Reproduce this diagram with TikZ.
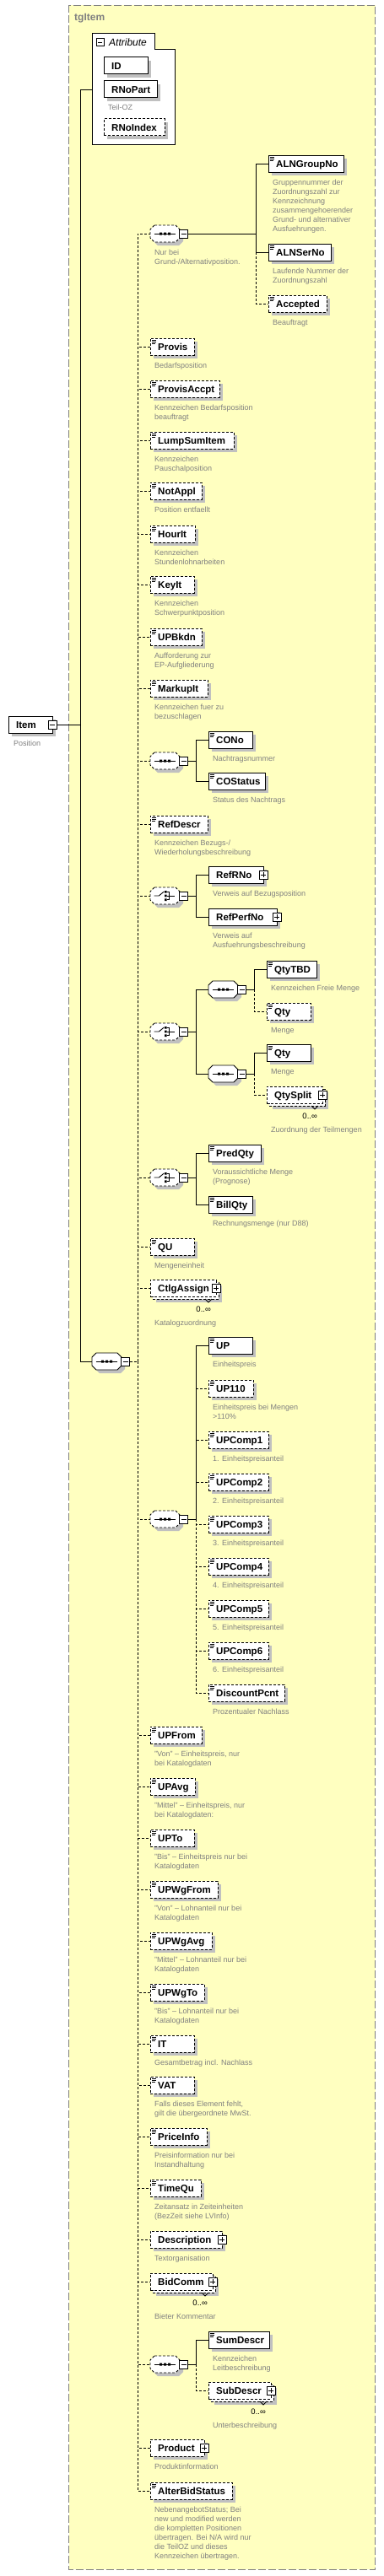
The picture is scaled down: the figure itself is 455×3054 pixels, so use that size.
\documentclass[tikz,border=0pt]{standalone}
\usepackage{fontspec}
\setmainfont{Liberation Sans}
\usetikzlibrary{calc}
\definecolor{ybg}{RGB}{255,255,192}
\definecolor{ybd}{RGB}{128,128,128}
\definecolor{shd}{RGB}{192,192,192}
\definecolor{dtxt}{RGB}{128,128,128}
\tikzset{
 conn/.style={line width=0.9pt, draw=black},
 opt/.style={dash pattern=on 3pt off 2pt},
 ebox/.style={draw=black, fill=white, line width=0.9pt, minimum height=20pt, inner sep=0pt, outer sep=0pt, rectangle},
 ename/.style={font=\fontsize{11.5}{13}\selectfont\bfseries, inner sep=0pt, text=black},
 desc/.style={font=\fontsize{9}{11}\selectfont, text=dtxt, align=left, inner sep=0pt},
 occ/.style={font=\fontsize{9.5}{11}\selectfont, inner sep=0pt, text=black},
 pmbox/.style={draw=black, fill=white, line width=0.8pt, minimum size=10pt, inner sep=0pt, outer sep=0pt, rectangle},
 anch/.style={inner sep=0pt, outer sep=0pt, minimum width=35pt, minimum height=20pt},
}
\newcommand\xEl[6]{%
  \fill[shd] (#3+4,#4-6) rectangle (#3+#5+4,#4+14);
  \node[ebox,#2,minimum width=#5pt,anchor=west] (#1) at (#3,#4) {};
  \node[ename,anchor=base west] (#1-t) at (#3+9,#4+4.5) {#6};
}
\newcommand\xIcon[2]{%
  \draw[line width=0.6pt] (#1+2,#2-7.7) -- (#1+7,#2-7.7) (#1+2,#2-5.7) -- (#1+7,#2-5.7) (#1+2,#2-3.7) -- (#1+5.5,#2-3.7);
}
\newcommand\xElI[6]{\xEl{#1}{#2}{#3}{#4}{#5}{#6}\xIcon{#3}{#4}}
\newcommand\xMul[6]{%
  \fill[shd] (#3+7,#4-3) rectangle (#3+#5+7,#4+17);
  \path[draw=black, fill=white, line width=0.9pt, #2] (#3+3,#4-7) rectangle (#3+#5+3,#4+13);
  \node[ebox,#2,minimum width=#5pt,anchor=west] (#1) at (#3,#4) {};
  \node[ename,anchor=base west] (#1-t) at (#3+9,#4+4.5) {#6};
  \draw[line width=0.8pt] (#3+#5-13,#4+13) -- (#3+#5-9,#4+17) -- (#3+#5-5,#4+13);
  \node[occ,anchor=base east] (#1-o) at (#3+#5-6,#4+28) {0..∞};
}
\newcommand\xDesc[4]{\node[desc,anchor=north west] (#1) at (#2,#3-7.7) {\strut #4};}
\newcommand\xMinus[3]{\node[pmbox] (#1) at (#2,#3) {};
  \draw[line width=0.7pt] ([xshift=2pt]#1.west) -- ([xshift=-2pt]#1.east);}
\newcommand\xPlus[3]{\node[pmbox] (#1) at (#2,#3) {};
  \draw[line width=0.7pt] ([xshift=2pt]#1.west) -- ([xshift=-2pt]#1.east) ([yshift=2pt]#1.south) -- ([yshift=-2pt]#1.north);}
\newcommand\xOct[3]{%
  \path[#1] (#2+5,#3-10) -- (#2+30,#3-10) -- (#2+35,#3-5) -- (#2+35,#3+5) -- (#2+30,#3+10) -- (#2+5,#3+10) -- (#2,#3+5) -- (#2,#3-5) -- cycle;}
\newcommand\xComp[4]{%
  \xOct{fill=shd}{#3+4}{#4+4}
  \xOct{draw=black,fill=white,line width=0.9pt,#2}{#3}{#4}
  \node[anch] (#1) at (#3+17.5,#4) {};
  \xMinus{#1-pm}{#3+39.5}{#4}
}
\newcommand\xSeq[2]{%
  \draw[line width=0.9pt] (#1+4.5,#2) -- (#1+30,#2);
  \fill (#1+11,#2-1.5) rectangle ++(3,3) (#1+16,#2-1.5) rectangle ++(3,3) (#1+21,#2-1.5) rectangle ++(3,3);
}
\newcommand\xCho[2]{%
  \draw[line width=0.9pt] (#1+4.5,#2) -- (#1+10.3,#2) -- (#1+16.3,#2-5);
  \fill (#1+17,#2-6) rectangle ++(2.6,2.6) (#1+17,#2-1.3) rectangle ++(2.6,2.6) (#1+17,#2+3.4) rectangle ++(2.6,2.6);
  \draw[line width=0.7pt] (#1+19.6,#2-4.7) -- (#1+22,#2-4.7) -- (#1+22,#2+4.7) -- (#1+19.6,#2+4.7) (#1+19.6,#2) -- (#1+28.7,#2);
}
\begin{document}
\begin{tikzpicture}[x=1pt,y=-1pt]
\useasboundingbox (0,0) rectangle (455,3054);
\fill[white] (0,0) rectangle (455,3054);
\draw[fill=ybg, draw=ybd, line width=1pt, dash pattern=on 9pt off 3pt] (81.5,6) rectangle (444.5,3046);
\node[font=\fontsize{12}{14}\selectfont\bfseries, text=ybd, anchor=base west, inner sep=0pt] (tg) at (88,24) {tgItem};

% Attributes
\path[draw=black, fill=white, line width=0.9pt] (109,171) -- (109,39) -- (183,39) -- (183,58) -- (207,58) -- (207,171) -- cycle;
\node[anch, minimum width=98pt, minimum height=130pt] (attr) at (158,106) {};
\node[pmbox, minimum size=9pt] (attr-pm) at (118.5,50) {};
\draw[line width=0.7pt] ([xshift=2pt]attr-pm.west) -- ([xshift=-2pt]attr-pm.east);
\node[font=\fontsize{12}{14}\selectfont\itshape, anchor=base west, inner sep=0pt] (attr-t) at (129,54) {Attribute};
\xEl{ID}{}{123}{77.5}{52}{ID}
\xEl{RNoPart}{}{123}{105.5}{63}{RNoPart}
\xDesc{RNoPart-d}{128}{130}{Teil-OZ}
\xEl{RNoIndex}{opt}{123}{150.5}{72}{RNoIndex}

% Item
\xEl{Item}{}{10}{859}{52}{Item}
\xMinus{Item-pm}{62}{859}
\xDesc{Item-d}{16}{884}{Position}

% main sequence
\xComp{mseq}{}{109}{1614}
\xSeq{109}{1614}

% seq1
\xComp{seq1}{opt}{178}{277}
\xSeq{178}{277}
\xDesc{seq1-d}{183}{302}{Nur bei\\Grund-/Alternativposition.}
\xElI{ALNGroupNo}{}{318}{194}{89}{ALNGroupNo}
\xDesc{ALNGroupNo-d}{323}{219}{Gruppennummer der\\Zuordnungszahl zur\\Kennzeichnung\\zusammengehoerender\\Grund- und alternativer\\Ausfuehrungen.}
\xElI{ALNSerNo}{}{318}{299}{74}{ALNSerNo}
\xDesc{ALNSerNo-d}{323}{324}{Laufende Nummer der\\Zuordnungszahl}
\xElI{Accepted}{opt}{318}{360}{69}{Accepted}
\xDesc{Accepted-d}{323}{385}{Beauftragt}

\xElI{Provis}{opt}{178}{411}{52}{Provis}
\xDesc{Provis-d}{183}{436}{Bedarfsposition}
\xElI{ProvisAccpt}{opt}{178}{461}{82}{ProvisAccpt}
\xDesc{ProvisAccpt-d}{183}{486}{Kennzeichen Bedarfsposition\\beauftragt}
\xElI{LumpSumItem}{opt}{178}{522}{99}{LumpSumItem}
\xDesc{LumpSumItem-d}{183}{547}{Kennzeichen\\Pauschalposition}
\xElI{NotAppl}{opt}{178}{582}{61}{NotAppl}
\xDesc{NotAppl-d}{183}{607}{Position entfaellt}
\xElI{HourIt}{opt}{178}{633}{53}{HourIt}
\xDesc{HourIt-d}{183}{658}{Kennzeichen\\Stundenlohnarbeiten}
\xElI{KeyIt}{opt}{178}{693}{52}{KeyIt}
\xDesc{KeyIt-d}{183}{718}{Kennzeichen\\Schwerpunktposition}
\xElI{UPBkdn}{opt}{178}{755}{61}{UPBkdn}
\xDesc{UPBkdn-d}{183}{780}{Aufforderung zur\\EP-Aufgliederung}
\xElI{MarkupIt}{opt}{178}{816}{68}{MarkupIt}
\xDesc{MarkupIt-d}{183}{841}{Kennzeichen fuer zu\\bezuschlagen}

% CO
\xComp{seqCO}{opt}{178}{902}
\xSeq{178}{902}
\xElI{CONo}{}{247}{877}{52}{CONo}
\xDesc{CONo-d}{252}{902}{Nachtragsnummer}
\xElI{COStatus}{}{247}{926}{67}{COStatus}
\xDesc{COStatus-d}{252}{951}{Status des Nachtrags}

\xElI{RefDescr}{opt}{178}{977}{68}{RefDescr}
\xDesc{RefDescr-d}{183}{1002}{Kennzeichen Bezugs-/\\Wiederholungsbeschreibung}

% choice 1
\xComp{cho1}{opt}{178}{1062}
\xCho{178}{1062}
\xEl{RefRNo}{}{247}{1037}{65}{RefRNo}
\xPlus{RefRNo-pm}{312}{1037}
\xDesc{RefRNo-d}{252}{1062}{Verweis auf Bezugsposition}
\xEl{RefPerfNo}{}{247}{1087}{81}{RefPerfNo}
\xPlus{RefPerfNo-pm}{328}{1087}
\xDesc{RefPerfNo-d}{252}{1112}{Verweis auf\\Ausfuehrungsbeschreibung}

% choice 2
\xComp{cho2}{opt}{178}{1223}
\xCho{178}{1223}
\xComp{seqA}{}{247}{1173}
\xSeq{247}{1173}
\xElI{QtyTBD}{}{316}{1149}{59}{QtyTBD}
\xDesc{QtyTBD-d}{321}{1174}{Kennzeichen Freie Menge}
\xElI{Qty}{opt}{316}{1199}{52}{Qty}
\xDesc{Qty-d}{321}{1224}{Menge}
\xComp{seqB}{}{247}{1273}
\xSeq{247}{1273}
\xElI{Qty2}{}{316}{1248}{52}{Qty}
\xDesc{Qty2-d}{321}{1273}{Menge}
\xMul{QtySplit}{opt}{316}{1298}{66}{QtySplit}
\xPlus{QtySplit-pm}{382}{1298}
\xDesc{QtySplit-d}{321}{1342}{Zuordnung der Teilmengen}

% choice 3
\xComp{cho3}{opt}{178}{1396}
\xCho{178}{1396}
\xElI{PredQty}{}{247}{1367}{62}{PredQty}
\xDesc{PredQty-d}{252}{1392}{Voraussichtliche Menge\\(Prognose)}
\xElI{BillQty}{}{247}{1428}{52}{BillQty}
\xDesc{BillQty-d}{252}{1453}{Rechnungsmenge (nur D88)}

\xElI{QU}{opt}{178}{1478}{52}{QU}
\xDesc{QU-d}{183}{1503}{Mengeneinheit}
\xMul{CtlgAssign}{opt}{178}{1527}{78}{CtlgAssign}
\xPlus{CtlgAssign-pm}{256}{1527}
\xDesc{CtlgAssign-d}{183}{1571}{Katalogzuordnung}

% UP sequence
\xComp{seqUP}{opt}{178}{1801}
\xSeq{178}{1801}
\xElI{UP}{}{247}{1595}{52}{UP}
\xDesc{UP-d}{252}{1620}{Einheitspreis}
\xElI{UP110}{opt}{247}{1646}{53}{UP110}
\xDesc{UP110-d}{252}{1671}{Einheitspreis bei Mengen\\>110\%}
\xElI{UPComp1}{opt}{247}{1707}{71}{UPComp1}
\xDesc{UPComp1-d}{252}{1732}{1. Einheitspreisanteil}
\xElI{UPComp2}{opt}{247}{1757}{71}{UPComp2}
\xDesc{UPComp2-d}{252}{1782}{2. Einheitspreisanteil}
\xElI{UPComp3}{opt}{247}{1807}{71}{UPComp3}
\xDesc{UPComp3-d}{252}{1832}{3. Einheitspreisanteil}
\xElI{UPComp4}{opt}{247}{1857}{71}{UPComp4}
\xDesc{UPComp4-d}{252}{1882}{4. Einheitspreisanteil}
\xElI{UPComp5}{opt}{247}{1907}{71}{UPComp5}
\xDesc{UPComp5-d}{252}{1932}{5. Einheitspreisanteil}
\xElI{UPComp6}{opt}{247}{1957}{71}{UPComp6}
\xDesc{UPComp6-d}{252}{1982}{6. Einheitspreisanteil}
\xElI{DiscountPcnt}{opt}{247}{2007}{90}{DiscountPcnt}
\xDesc{DiscountPcnt-d}{252}{2032}{Prozentualer Nachlass}

\xElI{UPFrom}{opt}{178}{2057}{61}{UPFrom}
\xDesc{UPFrom-d}{183}{2082}{"Von" – Einheitspreis, nur\\bei Katalogdaten}
\xElI{UPAvg}{opt}{178}{2118}{53}{UPAvg}
\xDesc{UPAvg-d}{183}{2143}{"Mittel" – Einheitspreis, nur\\bei Katalogdaten:}
\xElI{UPTo}{opt}{178}{2179}{52}{UPTo}
\xDesc{UPTo-d}{183}{2204}{"Bis" – Einheitspreis nur bei\\Katalogdaten}
\xElI{UPWgFrom}{opt}{178}{2240}{80}{UPWgFrom}
\xDesc{UPWgFrom-d}{183}{2265}{"Von" – Lohnanteil nur bei\\Katalogdaten}
\xElI{UPWgAvg}{opt}{178}{2301}{73}{UPWgAvg}
\xDesc{UPWgAvg-d}{183}{2326}{"Mittel" – Lohnanteil nur bei\\Katalogdaten}
\xElI{UPWgTo}{opt}{178}{2362}{64}{UPWgTo}
\xDesc{UPWgTo-d}{183}{2387}{"Bis" – Lohnanteil nur bei\\Katalogdaten}
\xElI{IT}{opt}{178}{2423}{52}{IT}
\xDesc{IT-d}{183}{2448}{Gesamtbetrag incl. Nachlass}
\xElI{VAT}{opt}{178}{2472}{52}{VAT}
\xDesc{VAT-d}{183}{2497}{Falls dieses Element fehlt,\\gilt die übergeordnete MwSt.}
\xElI{PriceInfo}{opt}{178}{2533}{67}{PriceInfo}
\xDesc{PriceInfo-d}{183}{2558}{Preisinformation nur bei\\Instandhaltung}
\xElI{TimeQu}{opt}{178}{2594}{60}{TimeQu}
\xDesc{TimeQu-d}{183}{2619}{Zeitansatz in Zeiteinheiten\\(BezZeit siehe LVInfo)}
\xEl{Description}{opt}{178}{2655}{85}{Description}
\xPlus{Description-pm}{263}{2655}
\xDesc{Description-d}{183}{2680}{Textorganisation}
\xMul{BidComm}{opt}{178}{2705}{74}{BidComm}
\xPlus{BidComm-pm}{252}{2705}
\xDesc{BidComm-d}{183}{2749}{Bieter Kommentar}

% descr sequence
\xComp{seqDescr}{opt}{178}{2803}
\xSeq{178}{2803}
\xElI{SumDescr}{}{247}{2774}{72}{SumDescr}
\xDesc{SumDescr-d}{252}{2799}{Kennzeichen\\Leitbeschreibung}
\xMul{SubDescr}{opt}{247}{2834}{74}{SubDescr}
\xPlus{SubDescr-pm}{321}{2834}
\xDesc{SubDescr-d}{252}{2878}{Unterbeschreibung}

\xEl{Product}{opt}{178}{2902}{64}{Product}
\xPlus{Product-pm}{242}{2902}
\xDesc{Product-d}{183}{2927}{Produktinformation}
\xElI{AlterBidStatus}{opt}{178}{2953}{97}{AlterBidStatus}
\xDesc{AlterBidStatus-d}{183}{2978}{NebenangebotStatus; Bei\\new und modified werden\\die kompletten Positionen\\übertragen. Bei N/A wird nur\\die TeilOZ und dieses\\Kennzeichen übertragen.}

% ---------- connectors ----------
\coordinate (rs) at (95,859);
\draw[conn] (Item-pm.east) -- (rs);
\draw[conn] (rs) |- (attr.west);
\draw[conn] (rs) |- (mseq.west);

\coordinate (ms) at (163,1614);
\draw[conn,opt] (mseq-pm.east) -- (ms);
\foreach \n in {seq1,Provis,ProvisAccpt,LumpSumItem,NotAppl,HourIt,KeyIt,UPBkdn,MarkupIt,seqCO,RefDescr,cho1,cho2,cho3,QU,CtlgAssign,seqUP,UPFrom,UPAvg,UPTo,UPWgFrom,UPWgAvg,UPWgTo,IT,VAT,PriceInfo,TimeQu,Description,BidComm,seqDescr,Product,AlterBidStatus}
  {\draw[conn,opt] (ms) |- (\n.west);}

\coordinate (s1) at (303,277);
\draw[conn] (seq1-pm.east) -- (s1);
\draw[conn] (s1) |- (ALNGroupNo.west);
\draw[conn] (s1) |- (ALNSerNo.west);
\draw[conn,opt] (s1 |- ALNSerNo.west) |- (Accepted.west);

\coordinate (s2) at (232,902);
\draw[conn] (seqCO-pm.east) -- (s2);
\draw[conn] (s2) |- (CONo.west);
\draw[conn] (s2) |- (COStatus.west);

\coordinate (s3) at (232,1062);
\draw[conn] (cho1-pm.east) -- (s3);
\draw[conn] (s3) |- (RefRNo.west);
\draw[conn] (s3) |- (RefPerfNo.west);

\coordinate (s4) at (232,1223);
\draw[conn] (cho2-pm.east) -- (s4);
\draw[conn] (s4) |- (seqA.west);
\draw[conn] (s4) |- (seqB.west);

\coordinate (s5) at (301,1173);
\draw[conn] (seqA-pm.east) -- (s5);
\draw[conn] (s5) |- (QtyTBD.west);
\draw[conn,opt] (s5) |- (Qty.west);

\coordinate (s6) at (301,1273);
\draw[conn] (seqB-pm.east) -- (s6);
\draw[conn] (s6) |- (Qty2.west);
\draw[conn,opt] (s6) |- (QtySplit.west);

\coordinate (s7) at (232,1396);
\draw[conn] (cho3-pm.east) -- (s7);
\draw[conn] (s7) |- (PredQty.west);
\draw[conn] (s7) |- (BillQty.west);

\coordinate (s8) at (232,1801);
\draw[conn] (seqUP-pm.east) -- (s8);
\draw[conn] (s8) |- (UP.west);
\foreach \n in {UP110,UPComp1,UPComp2,UPComp3,UPComp4,UPComp5,UPComp6,DiscountPcnt}
  {\draw[conn,opt] (s8) |- (\n.west);}
\draw[conn] (s8) -- (s8 |- UP.west);

\coordinate (s9) at (232,2803);
\draw[conn] (seqDescr-pm.east) -- (s9);
\draw[conn] (s9) |- (SumDescr.west);
\draw[conn,opt] (s9) |- (SubDescr.west);
\end{tikzpicture}
\end{document}
